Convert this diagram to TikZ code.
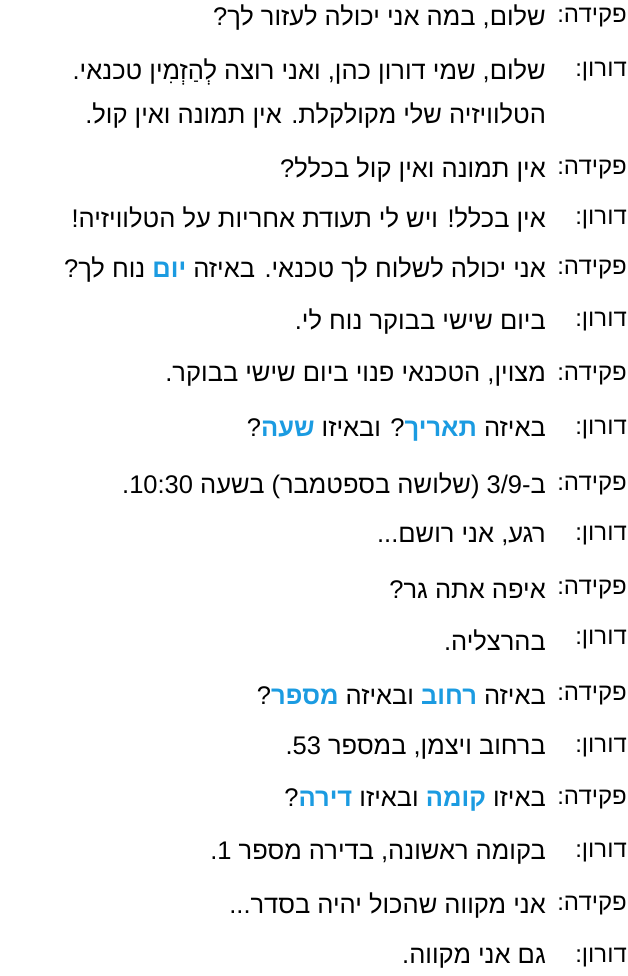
\documentclass[tikz,border=0pt]{standalone}
\usepackage{fontspec}
\setmainfont[Script=Hebrew]{Liberation Sans}
\newfontfamily\hlfont[Script=Hebrew,Color=1B9BE1]{Liberation Sans Bold}
\TeXXeTstate=1
\newcommand{\RL}[1]{\beginR #1\endR}
\newcommand{\LR}[1]{\beginL #1\endL{}}
\newcommand{\hlw}[1]{{\hlfont #1}}
\begin{document}
\begin{tikzpicture}[x=1pt,y=-1pt,
  spk/.style={anchor=east,inner sep=0pt,font=\fontsize{24}{30}\selectfont},
  say/.style={anchor=east,inner sep=0pt,font=\fontsize{25.5}{30}\selectfont}]
\useasboundingbox (0,0) rectangle (628,976);
\newcommand{\turn}[4]{%
  \node[spk] (s#1) at (627,#2) {\RL{#3:}};
  \node[say] (t#1) at (546,#2) {\RL{#4}};}
\turn{1}{18}{פקידה}{שלום, במה אני יכולה לעזור לך?}
\turn{2}{72}{דורון}{שלום, שמי דורון כהן, ואני רוצה לְהַזְמִין טכנאי.}
\node[say] (t2b) at (546,116) {\RL{הטלוויזיה שלי מקולקלת. אין תמונה ואין קול.}};
\turn{3}{170}{פקידה}{אין תמונה ואין קול בכלל?}
\turn{4}{220}{דורון}{אין בכלל! ויש לי תעודת אחריות על הטלוויזיה!}
\turn{5}{270}{פקידה}{אני יכולה לשלוח לך טכנאי. באיזה \hlw{יום} נוח לך?}
\turn{6}{322}{דורון}{ביום שישי בבוקר נוח לי.}
\turn{7}{376}{פקידה}{מצוין, הטכנאי פנוי ביום שישי בבוקר.}
\turn{8}{430}{דורון}{באיזה \hlw{תאריך}? ובאיזו \hlw{שעה}?}
\turn{9}{486}{פקידה}{ב-\LR{3/9} (שלושה בספטמבר) בשעה \LR{10:30}.}
\turn{10}{536}{דורון}{רגע, אני רושם...}
\turn{11}{590}{פקידה}{איפה אתה גר?}
\turn{12}{640}{דורון}{בהרצליה.}
\turn{13}{696}{פקידה}{באיזה \hlw{רחוב} ובאיזה \hlw{מספר}?}
\turn{14}{748}{דורון}{ברחוב ויצמן, במספר \LR{53}.}
\turn{15}{800}{פקידה}{באיזו \hlw{קומה} ובאיזו \hlw{דירה}?}
\turn{16}{853}{דורון}{בקומה ראשונה, בדירה מספר \LR{1}.}
\turn{17}{906}{פקידה}{אני מקווה שהכול יהיה בסדר...}
\turn{18}{958}{דורון}{גם אני מקווה.}
\end{tikzpicture}
\end{document}
